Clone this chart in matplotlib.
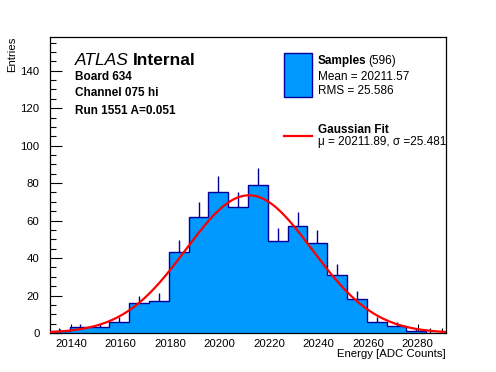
import numpy as np
import matplotlib
matplotlib.use("Agg")
import matplotlib.pyplot as plt
from matplotlib.patches import Rectangle
from matplotlib.lines import Line2D
from matplotlib.ticker import MultipleLocator

plt.rcParams['font.family'] = ['Liberation Sans', 'DejaVu Sans']

# ---- data ----
bin_start = 20131.5
bin_width = 8.0
counts = [1, 3, 3, 6, 16, 17, 43, 62, 75, 67, 79, 49, 57, 48, 31, 18, 6, 4, 1, 0]
fit_mu = 20211.89
fit_sigma = 25.481
fit_amp = 73.5
n_entries = 596
mean_val = "20211.57"
rms_val = "25.586"
xticks = [20140, 20160, 20180, 20200, 20220, 20240, 20260, 20280]
yticks = [0, 20, 40, 60, 80, 100, 120, 140]

counts = np.array(counts, dtype=float)
edges = bin_start + bin_width * np.arange(len(counts) + 1)
centers = 0.5 * (edges[:-1] + edges[1:])

W, H = 496, 372
fig = plt.figure(figsize=(W / 100, H / 100), dpi=100)
L, R, T, B = 50, 446, 37, 333
ax = fig.add_axes([L / W, 1 - B / H, (R - L) / W, (B - T) / H])

fill_c = '#0099FF'
edge_c = '#000099'

# error bars (below fill, so only the top part shows)
nz = counts > 0
ax.vlines(centers[nz], counts[nz] - np.sqrt(counts[nz]), counts[nz] + np.sqrt(counts[nz]),
          colors=edge_c, lw=1.0, zorder=1)
ax.stairs(counts, edges, fill=True, facecolor=fill_c, edgecolor='none', zorder=2)
ax.stairs(counts, edges, fill=False, color=edge_c, lw=1.0, baseline=0, zorder=3)

xx = np.linspace(edges[0], edges[-1], 400)
yy = fit_amp * np.exp(-0.5 * ((xx - fit_mu) / fit_sigma) ** 2)
ax.plot(xx, yy, color='red', lw=1.6, zorder=4)

ax.set_xlim(edges[0], edges[-1])
ax.set_ylim(0, 2 * counts.max())

ax.set_xticks(xticks)
ax.set_yticks(yticks)
ax.xaxis.set_minor_locator(MultipleLocator(5))
ax.yaxis.set_minor_locator(MultipleLocator(5))
ax.tick_params(which='both', direction='in', top=False, right=False, labelsize=8.2, width=0.8)
ax.tick_params(axis='y', which='major', length=8.5, pad=7.5)
ax.tick_params(axis='y', which='minor', length=4.3)
ax.tick_params(axis='x', which='major', length=6.5, pad=4)
ax.tick_params(axis='x', which='minor', length=3.3)
for s in ax.spines.values():
    s.set_linewidth(0.9)

fig.text(12 / W, 1 - 37 / H, 'Entries', rotation=90, ha='center', va='top', fontsize=8.2)
fig.text(446 / W, 1 - 354 / H, 'Energy [ADC Counts]', ha='right', va='center', fontsize=8.2)

fig.canvas.draw()
renderer = fig.canvas.get_renderer()

def px(x, y):
    return (x / W, 1 - y / H)

t1 = fig.text(*px(75, 65), 'ATLAS', style='italic', fontsize=12.5, va='baseline', ha='left')
bb = t1.get_window_extent(renderer)
fig.text((bb.x1 + 4) / W, 1 - 65 / H, 'Internal', fontweight='bold', fontsize=12.5, va='baseline', ha='left')

for yb, s in [(79.5, 'Board 634'), (96.5, 'Channel 075 hi'), (113.5, 'Run 1551 A=0.051')]:
    fig.text(*px(75, yb), s, fontweight='bold', fontsize=8.5, va='baseline', ha='left')

# legend
fig.add_artist(Rectangle(px(283.5, 97), 28 / W, 44 / H, transform=fig.transFigure,
                         facecolor=fill_c, edgecolor=edge_c, lw=1.0))
fig.add_artist(Line2D([283.5 / W, 311.5 / W], [1 - 136 / H, 1 - 136 / H],
                      transform=fig.transFigure, color='red', lw=1.6))

tx = 317.5
s1 = fig.text(*px(tx, 64), 'Samples', fontweight='bold', fontsize=8.5, va='baseline', ha='left')
bb = s1.get_window_extent(renderer)
fig.text((bb.x1 + 2.5) / W, 1 - 64 / H, '(%d)' % n_entries, fontsize=8.5, va='baseline', ha='left')
fig.text(*px(tx, 80), 'Mean = ' + mean_val, fontsize=8.5, va='baseline', ha='left')
fig.text(*px(tx, 94), 'RMS = ' + rms_val, fontsize=8.5, va='baseline', ha='left')
fig.text(*px(tx, 133), 'Gaussian Fit', fontweight='bold', fontsize=8.5, va='baseline', ha='left')
fig.text(*px(tx, 145.5), '\u03bc = %.2f, \u03c3 =%.3f' % (fit_mu, fit_sigma), fontsize=8.5,
         va='baseline', ha='left')

fig.savefig('out.png', dpi=100)
